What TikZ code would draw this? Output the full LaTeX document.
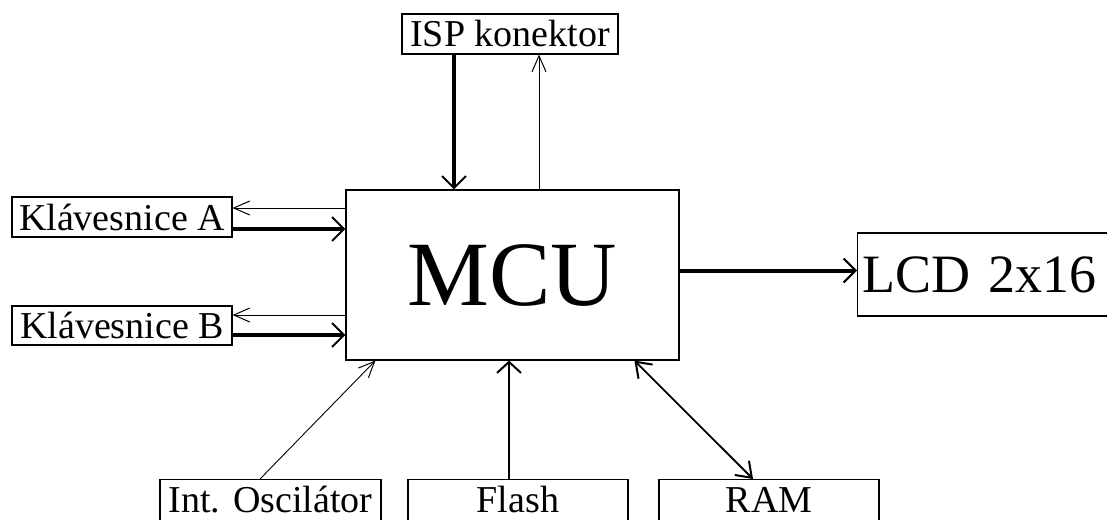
\documentclass[tikz,border=0pt]{standalone}
\usepackage{fontspec}
\setmainfont{Liberation Serif}
\usetikzlibrary{arrows.meta}
\begin{document}
\begin{tikzpicture}[x=1pt,y=-1pt,
  box/.style={draw,line width=1.1pt,inner sep=0pt,font=\fontsize{38}{40}\selectfont},
  thick arrow/.style={line width=4pt,-{Straight Barb[length=12pt,width=24pt,line width=2pt]}},
  mid arrow/.style={line width=2pt,-{Straight Barb[length=11pt,width=24pt,line width=2pt]}},
  thin arrow/.style={line width=0.9pt,-{Straight Barb[length=16pt,width=14pt,line width=1pt]}},
  both arrow/.style={line width=1.8pt,{Straight Barb[length=14pt,width=20pt,line width=2pt]}-{Straight Barb[length=14pt,width=20pt,line width=2pt]}}
]
\useasboundingbox (0,0) rectangle (1107,519);
\clip (0,0) rectangle (1107,519);
\fill[white] (0,0) rectangle (1107,519);

% MCU
\node[draw,line width=1.1pt,minimum width=333pt,minimum height=170pt,inner sep=0pt,
      font=\fontsize{92}{92}\selectfont] (mcu) at (512.5,275) {MCU};

% ISP
\node[box,minimum width=216pt,minimum height=40pt] (isp) at (510,34) {ISP konektor};

% Keyboards
\node[box,minimum width=220pt,minimum height=40pt] (ka) at (122,217) {Klávesnice A};
\node[box,minimum width=220pt,minimum height=39pt] (kb) at (122,325.5) {Klávesnice B};

% LCD
\node[draw,line width=1.1pt,anchor=west,inner xsep=5pt,inner ysep=0pt,minimum height=83pt,
      text width=260pt,align=left,font=\fontsize{54}{56}\selectfont] (lcd) at (857,274.5) {LCD 2x16};

% Bottom boxes
\tikzset{bot/.style={draw,line width=1.1pt,anchor=north,inner xsep=0pt,inner ysep=7pt,
  text height=26pt,text depth=30pt,font=\fontsize{38}{40}\selectfont}}
\node[bot,minimum width=221pt] (osc) at (270.5,479) {Int. Oscilátor};
\node[bot,minimum width=220pt] (flash) at (518,479) {Flash};
\node[bot,minimum width=220pt] (ram) at (769,479) {RAM};

% Connectors
\draw[thick arrow] ([xshift=-56pt]isp.south) -- ([xshift=-56pt]isp.south |- mcu.north);
\draw[thin arrow] ([xshift=29pt]isp.south |- mcu.north) -- ([xshift=29pt]isp.south);

\draw[thin arrow] ([yshift=9pt]ka.east -| mcu.west) -- ([yshift=9pt]ka.east);
\draw[thick arrow] ([yshift=-12pt]ka.east) -- ([yshift=-12pt]ka.east -| mcu.west);

\draw[thin arrow] ([yshift=10.5pt]kb.east -| mcu.west) -- ([yshift=10.5pt]kb.east);
\draw[thick arrow] ([yshift=-9.5pt]kb.east) -- ([yshift=-9.5pt]kb.east -| mcu.west);

\draw[thick arrow] ([yshift=4.5pt]mcu.east) -- ([yshift=4.5pt]mcu.east -| lcd.west);

\draw[thin arrow] ([xshift=-10.5pt]osc.north) -- ([xshift=30pt]mcu.south west);
\draw[mid arrow] ([xshift=-9pt]flash.north) -- ([xshift=-9pt]flash.north |- mcu.south);
\draw[both arrow] ([xshift=289pt]mcu.south west) -- ([xshift=-16pt]ram.north);
\end{tikzpicture}
\end{document}
